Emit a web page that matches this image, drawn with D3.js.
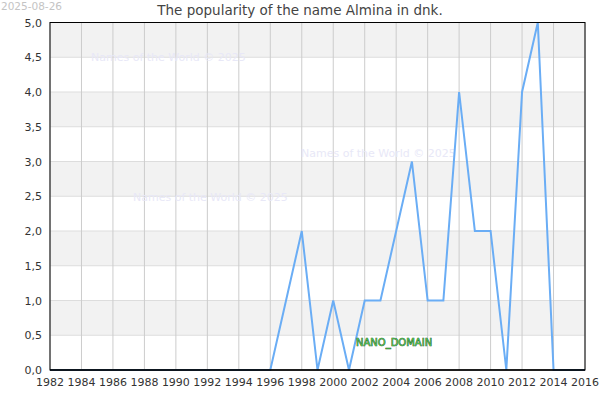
<!DOCTYPE html>
<html><head><meta charset="utf-8">
<script src="https://cdn.jsdelivr.net/npm/d3@7"></script>
<style>body{margin:0;background:#fff}svg{display:block}</style>
</head><body>
<svg id="c" width="600" height="400"></svg>
<script>
const years = d3.range(1982, 2017);
const values = [0,0,0,0,0,0,0,0,0,0,0,0,0,0,0,1,2,0,1,0,1,1,2,3,1,1,4,2,2,0,4,5,0,0,0];
const yTicks = [0,0.5,1,1.5,2,2.5,3,3.5,4,4.5,5];
const xTicks = d3.range(1982, 2017, 2);
const title = "The popularity of the name Almina in dnk.";
const dateLabel = "2025-08-26";
const watermark = "Names of the World © 2025";

const svg = d3.select("#c");
const m = {l:50, r:585, t:22.5, b:370};
const x = d3.scaleLinear().domain([1982,2016]).range([m.l, m.r]);
const y = d3.scaleLinear().domain([0,5]).range([m.b, m.t]);
const font = "DejaVu Sans, sans-serif";

// bands
for (let i = 0; i < yTicks.length-1; i++) {
  if (i % 2 === 1) {
    svg.append("rect").attr("x", m.l).attr("width", m.r-m.l)
      .attr("y", y(yTicks[i+1])).attr("height", y(yTicks[i]) - y(yTicks[i+1]))
      .attr("fill", "#f2f2f2");
  }
}
// horizontal grid
svg.append("g").selectAll("line").data(yTicks).join("line")
  .attr("x1", m.l).attr("x2", m.r).attr("y1", d=>y(d)).attr("y2", d=>y(d))
  .attr("stroke", "#dddddd").attr("stroke-width", 1);
// vertical grid
svg.append("g").selectAll("line").data(xTicks).join("line")
  .attr("x1", d=>x(d)).attr("x2", d=>x(d)).attr("y1", m.t).attr("y2", m.b)
  .attr("stroke", "#cccccc").attr("stroke-width", 1);

// watermarks
const wm = [[91,57],[301,153],[133,197]];
svg.append("g").selectAll("text").data(wm).join("text")
  .attr("x", d=>d[0]).attr("y", d=>d[1]+4).text(watermark)
  .attr("font-family", font).attr("font-size", 11).attr("fill", "#e8e8f7");

// line
svg.append("path").datum(years.map((yr,i)=>[yr, values[i]]))
  .attr("d", d3.line().x(d=>x(d[0])).y(d=>y(d[1])))
  .attr("fill", "none").attr("stroke", "#6aadf5").attr("stroke-width", 2);

// frame
svg.append("rect").attr("x", m.l).attr("y", m.t).attr("width", m.r-m.l).attr("height", m.b-m.t)
  .attr("fill", "none").attr("stroke", "#000").attr("stroke-width", 1);
svg.append("line").attr("x1", m.l).attr("x2", m.r).attr("y1", m.b).attr("y2", m.b)
  .attr("stroke", "#000").attr("stroke-width", 1.5);

// axes labels
const fmt = d3.format(".1f");
svg.append("g").selectAll("text").data(yTicks).join("text")
  .attr("x", m.l-8).attr("y", d=>y(d)+4).attr("text-anchor", "end")
  .text(d=>fmt(d).replace(".", ","))
  .attr("font-family", font).attr("font-size", 11).attr("fill", "#333");
svg.append("g").selectAll("text").data(xTicks).join("text")
  .attr("x", d=>x(d)).attr("y", 386).attr("text-anchor", "middle")
  .text(d=>d)
  .attr("font-family", font).attr("font-size", 11).attr("fill", "#333");

// title
svg.append("text").attr("x", 300).attr("y", 15).attr("text-anchor", "middle")
  .text(title).attr("font-family", font).attr("font-size", 13.5).attr("fill", "#444");
svg.append("text").attr("x", 1).attr("y", 10).text(dateLabel)
  .attr("font-family", font).attr("font-size", 10.5).attr("fill", "#c4c4c4");

// NANO_DOMAIN
svg.append("text").attr("x", 356).attr("y", 346).text("NANO_DOMAIN")
  .attr("font-family", font).attr("font-size", 10).attr("fill", "#4cb84c")
  .attr("stroke", "#1a4d1a").attr("stroke-width", 0.6).attr("paint-order", "stroke");
</script>
</body></html>
